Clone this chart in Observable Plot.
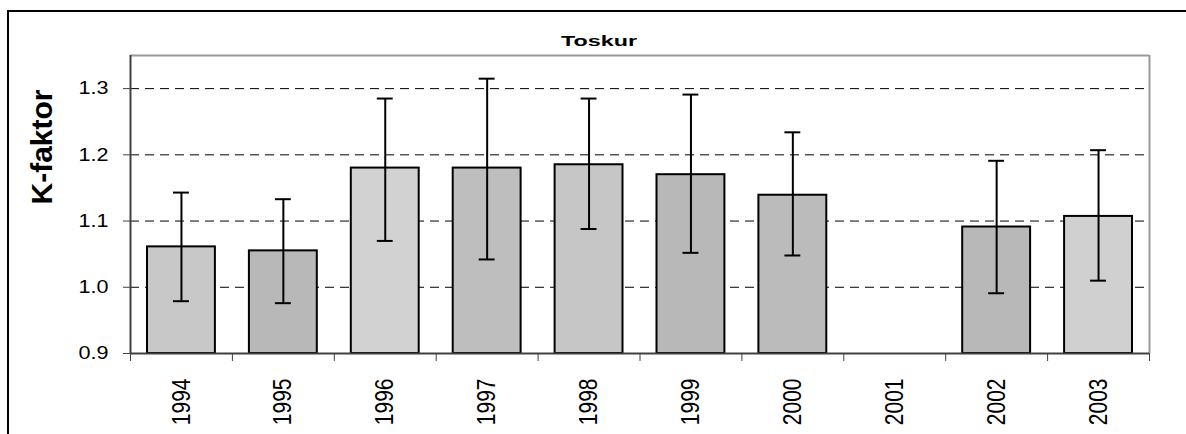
<!DOCTYPE html>
<html>
<head>
<meta charset="utf-8">
<script src="https://cdn.jsdelivr.net/npm/d3@7"></script>
<script src="https://cdn.jsdelivr.net/npm/@observablehq/plot@0.6"></script>
<style>
  html, body { margin: 0; padding: 0; background: #fff; }
  #chart { position: relative; width: 1186px; height: 434px; overflow: hidden; }
</style>
</head>
<body>
<div id="chart"></div>
<script>
// ---- data ----
const chartTitle = "Toskur";
const yLabel = "K-faktor";
const years = ["1994", "1995", "1996", "1997", "1998", "1999", "2000", "2001", "2002", "2003"];
const kMean = [1.061, 1.055, 1.180, 1.180, 1.185, 1.170, 1.139, null, 1.091, 1.107];
const kLow  = [0.979, 0.976, 1.070, 1.042, 1.088, 1.052, 1.048, null, 0.991, 1.010];
const kHigh = [1.143, 1.133, 1.285, 1.315, 1.285, 1.291, 1.234, null, 1.191, 1.207];
const yTicks = [0.9, 1.0, 1.1, 1.2, 1.3];
const gridValues = [1.0, 1.1, 1.2, 1.3];
const yDomain = [0.9, 1.35];

// ---- styles ----
const barFills = ["#c8c8c8", "#b8b8b8", "#d2d2d2", "#bebebe", "#c6c6c6", "#b8b8b8", "#bbbbbb", "#c8c8c8", "#b8b8b8", "#d0d0d0"];

const rows = years.map((year, i) => ({
  year, i, mean: kMean[i], lo: kLow[i], hi: kHigh[i], fill: barFills[i]
})).filter(d => d.mean != null);
const caps = rows.flatMap(d => [{i: d.i, v: d.lo}, {i: d.i, v: d.hi}]);
const fmt = d3.format(".1f");

const svg = Plot.plot({
  width: 1186,
  height: 434,
  marginTop: 55,
  marginBottom: 81,
  marginLeft: 130,
  marginRight: 37,
  style: {fontFamily: "'Liberation Sans', Arial, sans-serif", background: "#fff", color: "#000"},
  x: {type: "linear", domain: [0, years.length], axis: null},
  y: {domain: yDomain, axis: null},
  marks: [
    Plot.ruleY(gridValues, {stroke: "#000", strokeWidth: 1, strokeDasharray: "9,6"}),
    Plot.rectY(rows, {
      x1: d => d.i, x2: d => d.i + 1, y1: yDomain[0], y2: "mean",
      fill: d => d.fill, stroke: "#000", strokeWidth: 2, insetLeft: 17, insetRight: 17
    }),
    Plot.ruleX(rows, {x: d => d.i + 0.5, y1: "lo", y2: "hi", stroke: "#000", strokeWidth: 2}),
    Plot.ruleY(caps, {y: "v", x1: d => d.i, x2: d => d.i + 1, insetLeft: 43, insetRight: 43, stroke: "#000", strokeWidth: 2}),
    Plot.ruleY([yDomain[1]], {stroke: "#999", strokeWidth: 2}),
    Plot.ruleX([years.length], {stroke: "#999", strokeWidth: 2}),
    Plot.ruleX([0], {stroke: "#404040", strokeWidth: 2}),
    Plot.ruleY([yDomain[0]], {stroke: "#404040", strokeWidth: 2}),
    Plot.axisY(yTicks, {tickFormat: fmt, tickSize: 7, tickPadding: 15, stroke: "#404040", label: null}),
    Plot.axisX(d3.range(years.length + 1), {tickFormat: () => "", tickSize: 8, stroke: "#404040", label: null}),
    Plot.axisX(years.map((_, i) => i + 0.5), {
      tickFormat: v => years[Math.floor(v)], tickSize: 0, tickPadding: 25,
      tickRotate: -90, label: null
    }),
    Plot.text([yLabel], {frameAnchor: "left", dx: -88, rotate: -90, fontSize: 30, fontWeight: "bold", fill: "#000"})
  ]
});

document.getElementById("chart").appendChild(svg);

// tick label sizes; reference glyphs are horizontally stretched
const yLabelSet = new Set(yTicks.map(fmt));
const yearSet = new Set(years);
svg.querySelectorAll("text").forEach(t => {
  const s = t.textContent.trim();
  if (yearSet.has(s)) {
    t.setAttribute("font-size", 21);
    t.style.fontSize = "21px";
    const tr = t.getAttribute("transform");
    if (tr && tr.includes("rotate")) t.setAttribute("transform", tr + " scale(1,1.2)");
  } else if (yLabelSet.has(s)) {
    t.setAttribute("font-size", 18);
    t.style.fontSize = "18px";
    const len = t.getComputedTextLength();
    t.setAttribute("textLength", (len * 1.2).toFixed(1));
    t.setAttribute("lengthAdjust", "spacingAndGlyphs");
  }
});

const sel = d3.select(svg);
// outer chart-area frame (clipped at right and bottom)
sel.append("path")
  .attr("d", "M8,440V11H1190")
  .attr("fill", "none")
  .attr("stroke", "#000")
  .attr("stroke-width", 2);
// title
sel.append("text")
  .attr("x", 599)
  .attr("y", 46)
  .attr("text-anchor", "middle")
  .style("font-size", "15px")
  .attr("font-weight", "bold")
  .attr("textLength", 76)
  .attr("lengthAdjust", "spacingAndGlyphs")
  .attr("fill", "#000")
  .text(chartTitle);
</script>
</body>
</html>
